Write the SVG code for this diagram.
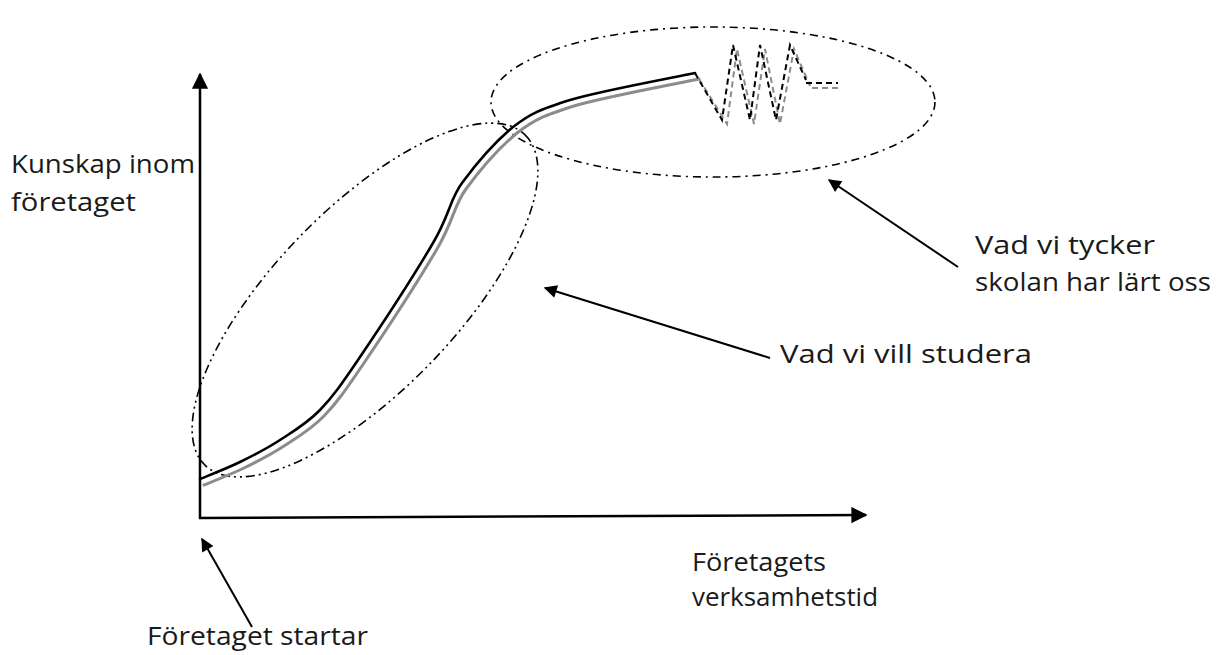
<svg xmlns="http://www.w3.org/2000/svg" width="1224" height="655" viewBox="0 0 1224 655">
<style>
.t{font-family:"Open Sans","Liberation Sans",sans-serif;font-size:25px;fill:#1a1a1a}
.ax{stroke:#000;stroke-width:2.5;fill:none}
.ar{stroke:#000;stroke-width:2;fill:none}
.blk{stroke:#000;stroke-width:2.6;fill:none;stroke-linejoin:round;stroke-linecap:round}
.gry{stroke:#8c8c8c;stroke-width:3;fill:none;stroke-linejoin:round;stroke-linecap:round}
.zb{stroke:#000;stroke-width:2;fill:none;stroke-dasharray:6 4}
.zg{stroke:#8c8c8c;stroke-width:2;fill:none;stroke-dasharray:6 4}
.el{stroke:#000;stroke-width:1.6;fill:none}
</style>
<defs>
<marker id="ah" viewBox="0 0 10 10" refX="9" refY="5" markerWidth="7" markerHeight="6.5" markerUnits="strokeWidth" orient="auto">
<path d="M0,0 L10,5 L0,10 z" fill="#000"/>
</marker>
<marker id="ahx" viewBox="0 0 10 10" refX="9" refY="5" markerWidth="6.5" markerHeight="6.5" markerUnits="strokeWidth" orient="auto">
<path d="M0,0 L10,5 L0,10 z" fill="#000"/>
</marker>
</defs>
<g id="axes">
<line class="ax" x1="200" y1="519" x2="200" y2="74" marker-end="url(#ahx)"/>
<line class="ax" x1="199" y1="518" x2="866" y2="515" marker-end="url(#ahx)"/>
</g>
<g id="ellipses">
<ellipse class="el" cx="365" cy="300" rx="230" ry="91" transform="rotate(-45.9 365 300)" stroke-dasharray="9 4 2 4 2 4"/>
<ellipse class="el" cx="713" cy="102" rx="222" ry="75" stroke-dasharray="8 5 2 5"/>
</g>
<g id="curve">
<path class="gry" transform="translate(4,6)" d="M200,479 C206.7,476.2 226.7,468.5 240,462 C253.3,455.5 266.7,448.7 280,440 C293.3,431.3 306.7,423.8 320,410 C333.3,396.2 341.2,384.8 360,357 C378.8,329.2 416,272 433,243 C450,214 450,199 462,183 C476,164 495,142 513,127 C531,113 540,109.5 570,100 C600,91 674,77.5 695,73"/>
<path class="blk" d="M200,479 C206.7,476.2 226.7,468.5 240,462 C253.3,455.5 266.7,448.7 280,440 C293.3,431.3 306.7,423.8 320,410 C333.3,396.2 341.2,384.8 360,357 C378.8,329.2 416,272 433,243 C450,214 450,199 462,183 C476,164 495,142 513,127 C531,113 540,109.5 570,100 C600,91 674,77.5 695,73"/>
<path class="zg" d="M699,79 L727,124 L737,49 L754,124 L765,49 L780,124 L794,49 L810,86"/>
<path class="zb" d="M695,73 L722,120 L733,45 L750,120 L760,45 L776,120 L790,45 L806,80"/>
<path class="zg" d="M812,88 L842,88" stroke-dasharray="11 5"/>
<path class="zb" d="M806,83 L838,83" stroke-dasharray="12 5"/>
</g>
<g id="connectors">
<line class="ar" x1="958" y1="267" x2="829" y2="180" marker-end="url(#ah)"/>
<line class="ar" x1="770" y1="358" x2="545" y2="288" marker-end="url(#ah)"/>
<line class="ar" x1="252" y1="627" x2="202" y2="539" marker-end="url(#ah)"/>
</g>
<g id="label-y">
<text class="t" x="11" y="173" textLength="184" lengthAdjust="spacingAndGlyphs">Kunskap inom</text>
<text class="t" x="11" y="211" textLength="125" lengthAdjust="spacingAndGlyphs">företaget</text>
</g>
<g id="label-school">
<text class="t" x="975" y="254" textLength="180" lengthAdjust="spacingAndGlyphs">Vad vi tycker</text>
<text class="t" x="975" y="291" textLength="236" lengthAdjust="spacingAndGlyphs">skolan har lärt oss</text>
</g>
<g id="label-study">
<text class="t" x="780" y="363" textLength="252" lengthAdjust="spacingAndGlyphs">Vad vi vill studera</text>
</g>
<g id="label-x">
<text class="t" x="692" y="571" textLength="134" lengthAdjust="spacingAndGlyphs">Företagets</text>
<text class="t" x="692" y="606" textLength="186" lengthAdjust="spacingAndGlyphs">verksamhetstid</text>
</g>
<g id="label-start">
<text class="t" x="147" y="645" textLength="221" lengthAdjust="spacingAndGlyphs">Företaget startar</text>
</g>
</svg>
